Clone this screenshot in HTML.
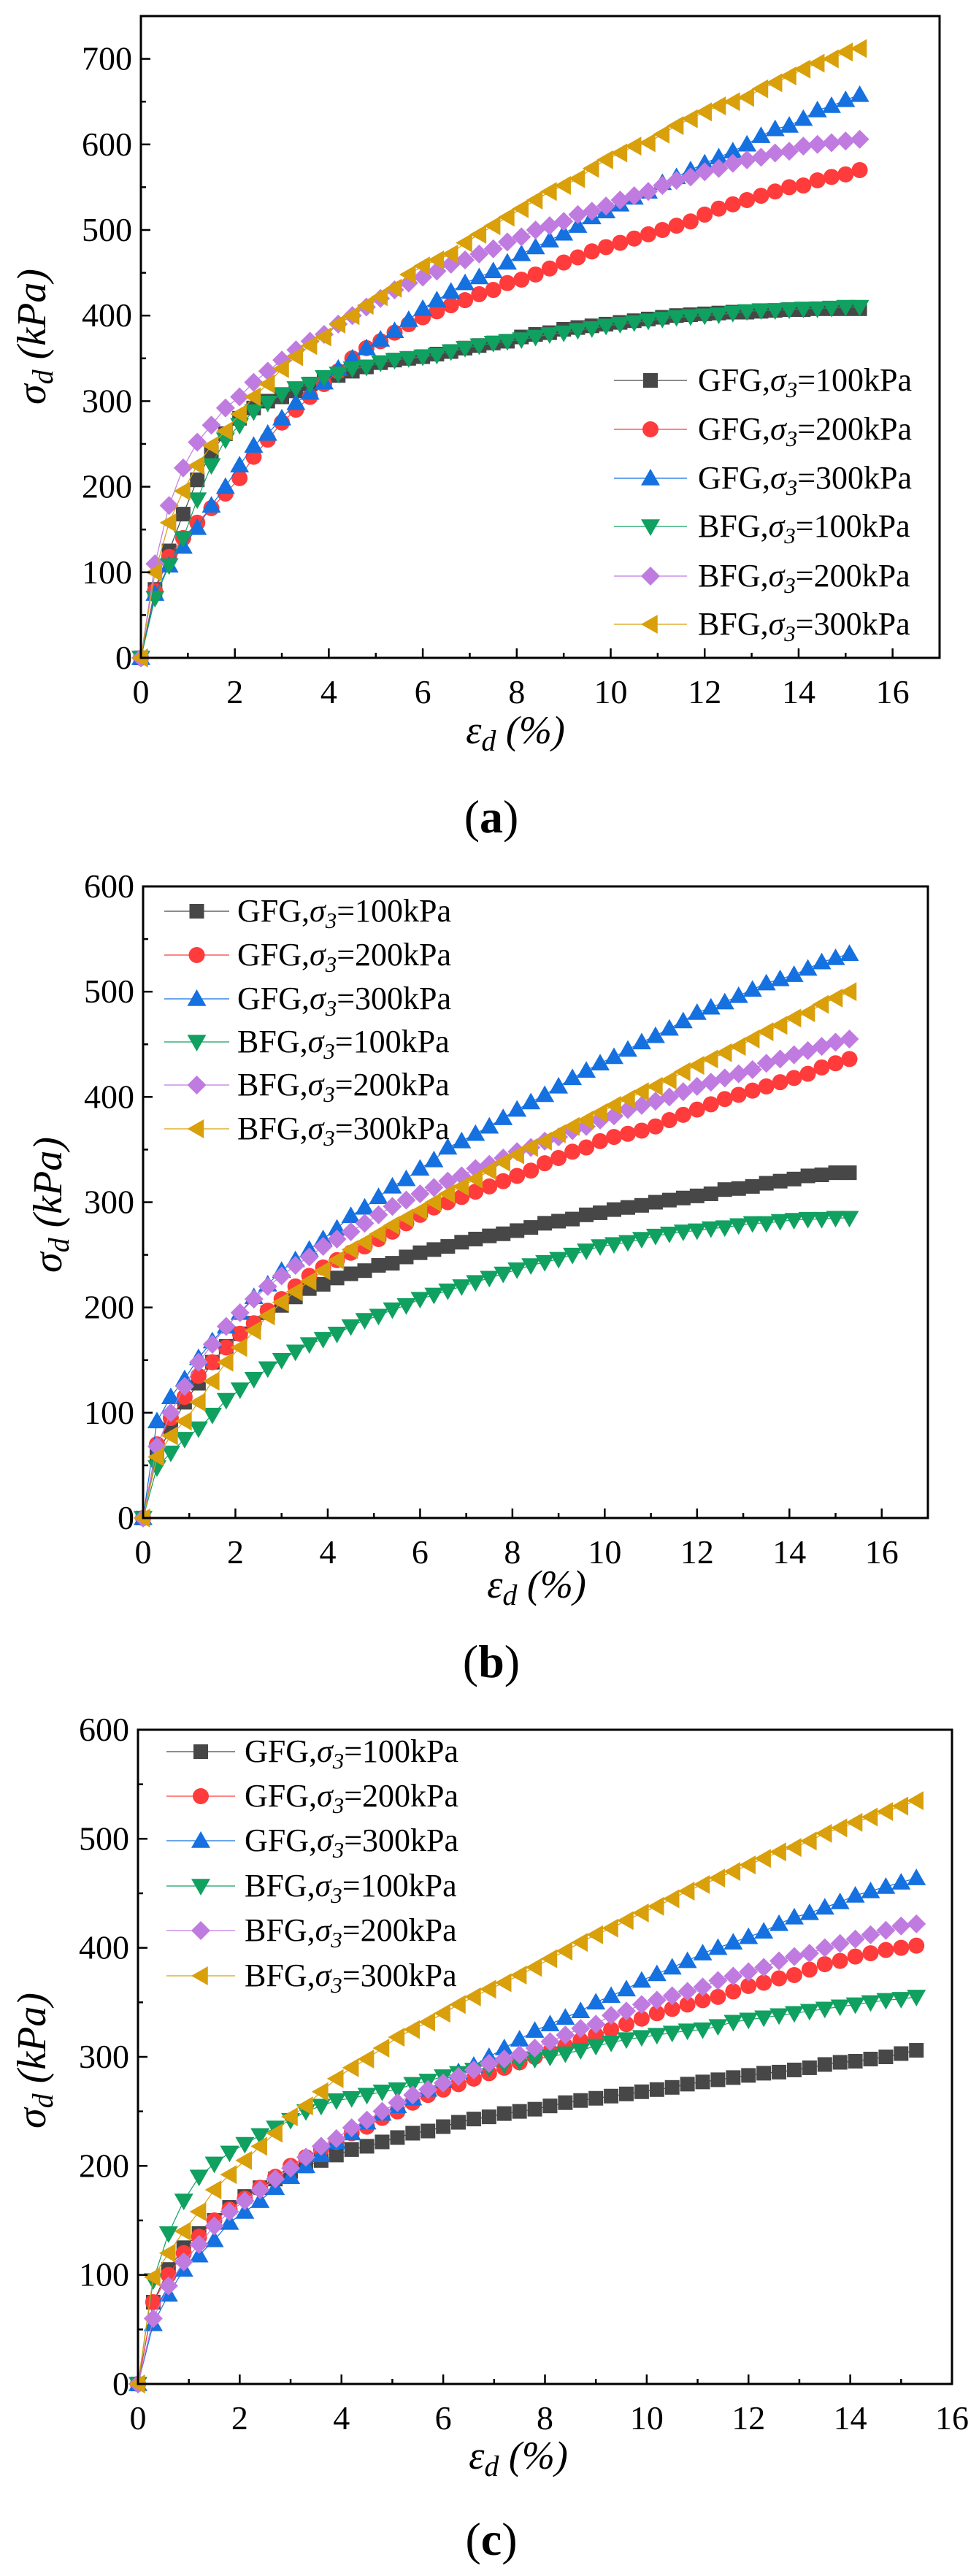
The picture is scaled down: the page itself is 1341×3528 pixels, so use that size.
<!DOCTYPE html>
<html><head><meta charset="utf-8"><style>
html,body{margin:0;padding:0;background:#fff;}
svg{display:block;}
svg text{font-family:"Liberation Serif","Times New Roman",serif;}
</style></head><body>
<svg id="fig" width="1341" height="3528" viewBox="0 0 1341 3528" xmlns="http://www.w3.org/2000/svg" font-family="Liberation Serif, serif"></svg>
<script>
// ---- shared data ----
const strain = [0,0.3,0.6,0.9,1.2,1.5,1.8,2.1,2.4,2.7,3.0,3.3,3.6,3.9,4.2,4.5,4.8,5.1,5.4,5.7,6.0,6.3,6.6,6.9,7.2,7.5,7.8,8.1,8.4,8.7,9.0,9.3,9.6,9.9,10.2,10.5,10.8,11.1,11.4,11.7,12.0,12.3,12.6,12.9,13.2,13.5,13.8,14.1,14.4,14.7,15.0,15.3];
const seriesLabels = ["GFG","GFG","GFG","BFG","BFG","BFG"];
const seriesPressures = ["100","200","300","100","200","300"];
const xTicks = [0,2,4,6,8,10,12,14,16];

// panel (a)
const aGFG100 = [0,80,125,168,208,240,262,280,292,300,305,312,320,325,330,335,340,345,348,350,352,355,358,362,365,368,370,375,378,380,384,386,388,390,392,394,396,398,400,401,402,403,404,404,405,406,407,407,408,408,408,408];
const aGFG200 = [0,78,118,140,158,175,192,210,235,255,275,290,305,320,335,350,362,370,380,390,398,405,412,418,425,430,438,442,448,455,462,468,475,480,485,490,495,500,505,510,518,525,530,535,540,545,550,552,558,562,565,570];
const aGFG300 = [0,75,108,130,152,178,200,225,248,262,280,298,310,322,338,350,362,372,382,395,408,418,428,438,445,452,462,472,480,488,496,505,515,522,530,538,545,555,562,570,578,585,592,600,610,618,622,630,640,645,652,658];
const aBFG100 = [0,70,108,140,185,225,255,272,288,298,308,315,320,328,332,338,340,345,348,350,352,354,358,362,365,368,370,372,375,378,380,383,385,388,390,392,394,396,398,399,400,401,403,405,406,406,407,408,408,409,410,410];
const aBFG200 = [0,110,178,222,252,272,292,305,322,335,348,360,370,378,390,400,410,420,430,438,445,452,460,465,472,478,486,492,500,505,510,518,522,528,535,540,545,552,558,562,568,572,578,582,585,590,592,598,600,602,604,606];
const aBFG300 = [0,100,158,195,225,248,265,285,305,320,338,352,365,375,390,400,412,422,432,448,458,465,472,485,495,505,515,525,535,545,552,560,572,582,590,598,602,612,622,630,638,645,650,655,665,672,680,688,695,700,708,712];
const aYTicks = [0,100,200,300,400,500,600,700];

// panel (b)
const bGFG100 = [0,60,85,110,128,148,163,175,185,195,202,210,218,222,228,232,235,240,242,248,252,255,258,262,265,268,270,273,276,280,282,284,288,290,293,295,297,300,302,304,306,308,312,313,315,318,320,322,325,326,328,328];
const bGFG200 = [0,70,95,115,135,148,162,175,185,197,208,220,230,238,245,252,258,265,272,280,288,295,300,305,310,315,320,325,330,337,342,348,352,358,362,365,368,372,378,383,388,393,398,402,406,410,414,418,422,428,432,436];
const bGFG300 = [0,92,115,132,152,168,182,195,210,222,235,245,255,265,275,287,295,305,315,322,332,340,352,358,365,372,380,388,395,402,410,418,425,432,438,445,452,458,465,472,480,485,490,496,502,508,512,516,522,528,532,536];
const bBFG100 = [0,48,62,75,85,98,112,122,132,142,150,158,165,170,175,182,188,192,198,202,208,212,216,220,224,228,232,236,240,243,246,250,254,258,260,262,265,268,270,272,273,275,276,278,280,280,282,283,284,284,285,285];
const bBFG200 = [0,68,100,125,148,165,182,195,208,220,230,240,248,258,265,272,280,288,296,302,308,314,320,325,332,336,342,348,352,358,362,368,372,378,382,388,392,396,400,405,410,414,418,422,426,432,436,440,444,448,452,455];
const bBFG300 = [0,58,78,92,110,130,148,162,178,192,205,215,225,235,245,255,262,270,278,285,292,300,308,315,322,330,338,345,352,358,365,372,378,385,392,398,405,410,416,424,430,436,442,448,455,462,468,475,480,488,494,500];
const bYTicks = [0,100,200,300,400,500,600];

// panel (c)
const cGFG100 = [0,75,105,125,138,150,162,172,180,188,195,200,205,210,215,218,222,226,230,232,236,240,243,245,248,250,252,255,258,260,262,264,266,268,270,272,275,277,279,281,283,285,286,288,290,293,295,296,298,300,303,306];
const cGFG200 = [0,75,100,120,135,150,160,170,180,190,200,208,215,222,230,236,244,250,258,265,270,275,280,285,290,295,300,305,310,315,320,325,330,335,340,344,348,352,355,360,365,368,372,375,380,385,388,392,395,398,400,402];
const cGFG300 = [0,55,82,105,118,132,148,158,168,180,190,200,210,222,230,240,248,255,262,270,278,286,292,300,308,316,324,330,336,342,350,356,362,370,376,382,388,395,400,405,410,415,422,428,432,437,442,448,452,456,460,464];
const cBFG100 = [0,95,138,168,190,202,212,220,228,235,242,250,255,260,262,265,268,270,275,278,282,285,288,290,293,296,298,300,303,306,310,313,316,318,320,322,324,325,328,332,334,336,338,340,342,344,346,348,350,352,353,355];
const cBFG200 = [0,60,90,112,128,145,158,168,178,188,198,208,218,225,235,242,250,258,265,270,276,282,288,294,298,302,308,314,320,326,330,338,342,348,352,356,360,364,370,374,378,382,388,392,395,400,404,408,412,416,420,422];
const cBFG300 = [0,98,120,140,158,178,192,205,218,230,245,255,268,280,290,298,308,318,325,332,340,348,355,362,368,375,382,390,397,405,412,418,425,432,438,445,452,458,464,470,476,482,488,492,498,505,510,515,520,525,530,535];
const cYTicks = [0,100,200,300,400,500,600];

const colors = ["#474747","#ff3b3b","#1570e0","#10a060","#c07be0","#d9a00c"];
const shapes = ["square","circle","up","down","diamond","left"];
const NS = "http://www.w3.org/2000/svg";
const svg = document.getElementById("fig");
const FF = '"Liberation Serif", serif';

function mk(tag, attrs, parent){
  const e = document.createElementNS(NS, tag);
  for (const k in attrs) e.setAttribute(k, attrs[k]);
  if (tag === "text") e.style.fontFamily = FF;
  (parent||svg).appendChild(e);
  return e;
}
function marker(shape, cx, cy, color, parent){
  const r = 10; let e;
  if (shape==="square") e = mk("rect",{x:cx-r,y:cy-r,width:2*r,height:2*r,fill:color},parent);
  else if (shape==="circle") e = mk("circle",{cx:cx,cy:cy,r:r+1,fill:color},parent);
  else {
    let p;
    const R = r+3;
    if (shape==="up") p=[[cx,cy-R],[cx+R,cy+R*0.75],[cx-R,cy+R*0.75]];
    if (shape==="down") p=[[cx,cy+R],[cx+R,cy-R*0.75],[cx-R,cy-R*0.75]];
    if (shape==="diamond") p=[[cx,cy-R],[cx+R,cy],[cx,cy+R],[cx-R,cy]];
    if (shape==="left") p=[[cx-R,cy],[cx+R*0.75,cy-R],[cx+R*0.75,cy+R]];
    e = mk("polygon",{points:p.map(q=>q.join(",")).join(" "),fill:color},parent);
  }
  return e;
}

function panel(cfg){
  const g = mk("g",{});
  
  
  const {L,R,T,B,xMax,yMax} = cfg;
  const X = v => L + v/xMax*(R-L);
  const Y = v => B - v/yMax*(B-T);
  cfg.series.forEach((vals,si)=>{
    const sg = mk("g",{},g);
    
    
    const pts = vals.map((v,i)=>X(strain[i]).toFixed(1)+","+Y(v).toFixed(1)).join(" ");
    mk("polyline",{points:pts,fill:"none",stroke:colors[si],"stroke-width":1.2},sg);
    vals.forEach((v,i)=>{
      const m = marker(shapes[si], X(strain[i]), Y(v), colors[si], sg);
      
      
    });
  });
  const fr = mk("rect",{x:L,y:T,width:R-L,height:B-T,fill:"none",stroke:"#000","stroke-width":3},g);
  
  
  const xa = mk("g",{},g);
  
  
  for (let v=0; v<=xMax; v+=1){
    const major = v%2===0;
    mk("line",{x1:X(v),x2:X(v),y1:B,y2:B-(major?13:7),stroke:"#000","stroke-width":2.5},xa);
  }
  xTicks.forEach(v=>{
    if (v>xMax) return;
    const t = mk("text",{x:X(v),y:B+62,"font-size":46,"text-anchor":"middle"},xa);
    t.textContent = v;
    
    
  });
  const ya = mk("g",{},g);
  
  
  for (let v=0; v<=yMax; v+=50){
    const major = v%100===0;
    mk("line",{x1:L,x2:L+(major?13:7),y1:Y(v),y2:Y(v),stroke:"#000","stroke-width":2.5},ya);
  }
  cfg.yTicks.forEach(v=>{
    const t = mk("text",{x:L-12,y:Y(v)+15,"font-size":46,"text-anchor":"end"},ya);
    t.textContent = v;
    
    
  });
  const yt = mk("text",{transform:`translate(${cfg.ytx},${cfg.yty}) rotate(-90)`,"font-size":56,"text-anchor":"middle","font-style":"italic"},g);
  yt.innerHTML = 'σ<tspan font-size="40" dy="10">d</tspan><tspan dy="-10"> (kPa)</tspan>';
  
  
  const xt = mk("text",{x:cfg.xtx,y:cfg.xty,"font-size":54,"text-anchor":"middle","font-style":"italic"},g);
  xt.innerHTML = 'ε<tspan font-size="40" dy="10">d</tspan><tspan dy="-10"> (%)</tspan>';
  
  
  const lg = mk("g",{},g);
  
  
  cfg.legRows.forEach((ry,si)=>{
    const e = mk("g",{},lg);
    
    
    mk("line",{x1:cfg.legL,x2:cfg.legR,y1:ry,y2:ry,stroke:colors[si],"stroke-width":1.2},e);
    marker(shapes[si], (cfg.legL+cfg.legR)/2, ry, colors[si], e);
    const t = mk("text",{x:cfg.legT,y:ry+14,"font-size":44},e);
    t.innerHTML = seriesLabels[si]+',<tspan font-style="italic">σ</tspan><tspan font-style="italic" font-size="31" dy="9">3</tspan><tspan dy="-9">='+seriesPressures[si]+'kPa</tspan>';
  });
  const cp = mk("text",{x:cfg.capx,y:cfg.capy,"font-size":64,"text-anchor":"middle"},g);
  cp.innerHTML = '(<tspan font-weight="bold">'+cfg.cap+'</tspan>)';
  
  
}

panel({name:"panel-a",L:193,R:1287,T:22,B:901,xMax:17,yMax:750,yTicks:aYTicks,
  series:[aGFG100,aGFG200,aGFG300,aBFG100,aBFG200,aBFG300],
  ytx:62,yty:461,xtx:706,xty:1018,legL:841,legR:941,legT:956,
  legRows:[521,588,655,721,789,855],cap:"a",capx:673,capy:1140});
panel({name:"panel-b",L:196,R:1271,T:1214,B:2079,xMax:17,yMax:600,yTicks:bYTicks,
  series:[bGFG100,bGFG200,bGFG300,bBFG100,bBFG200,bBFG300],
  ytx:84,yty:1650,xtx:735,xty:2188,legL:225,legR:314,legT:325,
  legRows:[1248,1308,1368,1427,1486,1546],cap:"b",capx:673,capy:2297});
panel({name:"panel-c",L:189,R:1304,T:2369,B:3265,xMax:16,yMax:600,yTicks:cYTicks,
  series:[cGFG100,cGFG200,cGFG300,cBFG100,cBFG200,cBFG300],
  ytx:62,yty:2822,xtx:710,xty:3381,legL:228,legR:322,legT:335,
  legRows:[2399,2460,2521,2583,2644,2706],cap:"c",capx:673,capy:3499});
</script>
</body></html>
